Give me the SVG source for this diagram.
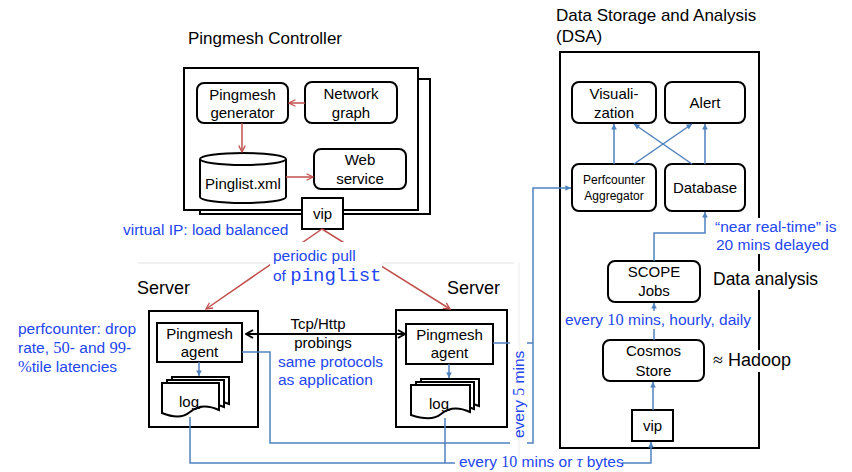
<svg xmlns="http://www.w3.org/2000/svg" width="852" height="472" viewBox="0 0 852 472">
<defs>
<style>
text{font-family:"Liberation Sans",Arial,sans-serif;fill:#000}
.t{font-size:17px}
.n{font-size:15px;text-anchor:middle}
.s{font-size:12px;text-anchor:middle}
.b{fill:#2346f0;font-size:15.5px}
.box{fill:#fff;stroke:#000;stroke-width:2}
.red{stroke:#c0504d;stroke-width:1.5;fill:none}
.blue{stroke:#4f81bd;stroke-width:1.5;fill:none}
.blk{stroke:#000;stroke-width:2;fill:none}
.wb{fill:#fff}
.serif{font-family:"Liberation Serif","Times New Roman",serif}
.mono{font-family:"Liberation Mono","Courier New",monospace}
</style>
<marker id="ar" viewBox="0 0 10 10" refX="9" refY="5" markerWidth="8" markerHeight="8" markerUnits="userSpaceOnUse" orient="auto"><path d="M1,1 L9,5 L1,9" fill="none" stroke="#c0504d" stroke-width="1.6"/></marker>
<marker id="ab" viewBox="0 0 10 10" refX="9" refY="5" markerWidth="7" markerHeight="7" markerUnits="userSpaceOnUse" orient="auto"><path d="M1,1 L9,5 L1,9 Z" fill="#4f81bd"/></marker>
<marker id="ak" viewBox="0 0 10 10" refX="9" refY="5" markerWidth="10" markerHeight="10" markerUnits="userSpaceOnUse" orient="auto-start-reverse"><path d="M2,1 L9,5 L2,9" fill="none" stroke="#000" stroke-width="2"/></marker>
</defs>
<rect width="852" height="472" fill="#fff"/>

<!-- faint guide lines -->
<line x1="138" y1="263" x2="514" y2="263" stroke="#e2e2e2" stroke-width="1"/>
<line x1="519" y1="263" x2="519" y2="458" stroke="#ececec" stroke-width="1"/>

<!-- Controller -->
<g id="controller">
<text x="188" y="44" class="t">Pingmesh Controller</text>
<rect x="200" y="79" width="230" height="135" class="box"/>
<rect x="184" y="68" width="234" height="142" class="box"/>
</g>
<g id="generator">
<rect x="197" y="83" width="91" height="40" rx="7" class="box"/>
<text x="242.5" y="100" class="n">Pingmesh</text>
<text x="242.5" y="118" class="n">generator</text>
</g>
<g id="netgraph">
<rect x="305" y="82" width="92" height="41" rx="7" class="box"/>
<text x="351" y="99" class="n">Network</text>
<text x="351" y="118" class="n">graph</text>
</g>
<g id="pinglist">
<path d="M200,159 V197 A43,6 0 0 0 286,197 V159" class="box"/>
<ellipse cx="243" cy="159" rx="43" ry="6" class="box"/>
<text x="243" y="189" class="n">Pinglist.xml</text>
</g>
<g id="webservice">
<rect x="314" y="149" width="92" height="40" rx="7" class="box"/>
<text x="360" y="165" class="n">Web</text>
<text x="360" y="184" class="n">service</text>
</g>
<g id="vip1">
<rect x="302" y="198" width="41" height="31" class="box"/>
<text x="322.5" y="219" class="n">vip</text>
</g>

<!-- Servers -->
<g id="server-left">
<text x="137" y="294" font-size="18">Server</text>
<rect x="149" y="311" width="109" height="116" class="box"/>
</g>
<g id="agent-left">
<rect x="157" y="323" width="85" height="39" class="box"/>
<text x="199.5" y="339" class="n">Pingmesh</text>
<text x="199.5" y="357" class="n">agent</text>
</g>
<g id="log-left">
<path d="M172,377 H229 V404 C218,399 210,401 204,405 L172,405 Z" class="box" stroke-width="1.6"/>
<path d="M167,380 H224 V407 C213,402 205,404 199,408 L167,408 Z" class="box" stroke-width="1.6"/>
<path d="M162,383 H219 V410 C206,404 197,406 190,412 C183,418 172,417 162,413 Z" class="box"/>
<text x="189" y="407" class="n">log</text>
</g>
<g id="server-right">
<text x="447" y="294" font-size="18">Server</text>
<rect x="396" y="310" width="111" height="117" class="box"/>
</g>
<g id="agent-right">
<rect x="406" y="324" width="87" height="40" class="box"/>
<text x="449.5" y="340" class="n">Pingmesh</text>
<text x="449.5" y="358" class="n">agent</text>
</g>
<g id="log-right">
<path d="M421,379 H479 V406 C468,401 460,403 454,407 L421,407 Z" class="box" stroke-width="1.6"/>
<path d="M416,382 H474 V409 C463,404 455,406 449,410 L416,410 Z" class="box" stroke-width="1.6"/>
<path d="M411,385 H470 V412 C457,406 448,408 441,414 C434,420 423,419 411,415 Z" class="box"/>
<text x="439" y="409" class="n">log</text>
</g>

<!-- DSA -->
<g id="dsa">
<text x="556" y="21" class="t">Data Storage and Analysis</text>
<text x="556" y="42" class="t">(DSA)</text>
<rect x="560" y="52" width="199" height="396" class="box"/>
</g>
<g id="visualization">
<rect x="572" y="82" width="84" height="41" rx="7" class="box"/>
<text x="614" y="99" class="n">Visuali-</text>
<text x="614" y="118" class="n">zation</text>
</g>
<g id="alert">
<rect x="665" y="82" width="80" height="41" rx="7" class="box"/>
<text x="705" y="108" class="n">Alert</text>
</g>
<g id="aggregator">
<rect x="572" y="164" width="84" height="47" rx="7" class="box"/>
<text x="614" y="184" class="s">Perfcounter</text>
<text x="614" y="200" class="s">Aggregator</text>
</g>
<g id="database">
<rect x="665" y="164" width="80" height="47" rx="7" class="box"/>
<text x="705" y="193" class="n" font-size="14">Database</text>
</g>
<g id="scope">
<rect x="608" y="261" width="92" height="41" rx="7" class="box"/>
<text x="654" y="277" class="n">SCOPE</text>
<text x="654" y="296" class="n">Jobs</text>
</g>
<g id="cosmos">
<rect x="603" y="340" width="101" height="41" rx="7" class="box"/>
<text x="653.5" y="356" class="n">Cosmos</text>
<text x="653.5" y="376" class="n">Store</text>
</g>
<g id="vip2">
<rect x="632" y="410" width="41" height="31" class="box"/>
<text x="652.5" y="431" class="n">vip</text>
</g>

<!-- Connectors -->
<g id="connectors">
<line x1="305" y1="103" x2="289" y2="103" class="red" marker-end="url(#ar)"/>
<line x1="242" y1="123" x2="242" y2="152" class="red" marker-end="url(#ar)"/>
<line x1="286" y1="177" x2="313" y2="177" class="red" marker-end="url(#ar)"/>
<line x1="322" y1="229" x2="206" y2="309" class="red" marker-end="url(#ar)"/>
<line x1="322" y1="229" x2="450" y2="309" class="red" marker-end="url(#ar)"/>
<line x1="246" y1="334" x2="405" y2="334" class="blk" marker-start="url(#ak)" marker-end="url(#ak)"/>
<line x1="199" y1="362" x2="199" y2="376" class="blue" marker-end="url(#ab)"/>
<line x1="449" y1="364" x2="449" y2="378" class="blue" marker-end="url(#ab)"/>
<polyline points="242,352 270,352 270,443 510,443" class="blue"/>
<line x1="493" y1="343" x2="510" y2="343" class="blue"/>
<polyline points="527,343 533,343" class="blue"/>
<polyline points="527,443 533,443 533,188 571,188" class="blue" marker-end="url(#ab)"/>
<polyline points="190,417 190,463 455,463" class="blue"/>
<line x1="445" y1="418" x2="445" y2="463" class="blue"/>
<polyline points="622,463 651,463 651,442" class="blue" marker-end="url(#ab)"/>
<line x1="614" y1="164" x2="614" y2="124" class="blue" marker-end="url(#ab)"/>
<line x1="634" y1="164" x2="692" y2="124" class="blue" marker-end="url(#ab)"/>
<line x1="692" y1="164" x2="634" y2="124" class="blue" marker-end="url(#ab)"/>
<line x1="705" y1="164" x2="705" y2="124" class="blue" marker-end="url(#ab)"/>
<polyline points="654,261 654,233 705,233 705,212" class="blue" marker-end="url(#ab)"/>
<line x1="654" y1="340" x2="654" y2="303" class="blue" marker-end="url(#ab)"/>
<line x1="653" y1="410" x2="653" y2="382" class="blue" marker-end="url(#ab)"/>
</g>

<!-- Labels -->
<g id="labels">
<text x="123" y="235" class="b">virtual IP: load balanced</text>
<rect x="270" y="242" width="112" height="44" class="wb"/>
<text x="273" y="261" class="b" font-size="21">periodic pull</text>
<text x="273" y="281" class="b" font-size="21">of <tspan class="mono" font-size="19">pinglist</tspan></text>
<text x="318" y="329" class="n" font-size="17.5">Tcp/Http</text>
<text x="323" y="348" class="n" font-size="17.5">probings</text>
<text x="278" y="367" class="b">same protocols</text>
<text x="278" y="385" class="b">as application</text>
<text x="18" y="334" class="b">perfcounter: drop</text>
<text x="18" y="353" class="b">rate, <tspan class="serif" font-size="16.5">50</tspan>- and <tspan class="serif" font-size="16.5">99</tspan>-</text>
<text x="18" y="372" class="b"><tspan class="serif" font-size="16.5">%</tspan>tile latencies</text>
<text transform="translate(524,438) rotate(-90)" class="b" font-size="15">every <tspan class="serif" font-size="16">5</tspan> mins</text>
<text x="459" y="467" class="b" font-size="15">every <tspan class="serif" font-size="16">10</tspan> mins or <tspan class="serif" font-style="italic" font-size="16">τ</tspan> bytes</text>
<rect x="712" y="218" width="124" height="36" class="wb"/>
<text x="715" y="232" class="b">“near real-time” is</text>
<text x="716" y="250" class="b">20 mins delayed</text>
<rect x="563" y="311" width="190" height="18" class="wb"/>
<text x="565" y="325" class="b">every <tspan class="serif" font-size="16.5">10</tspan> mins, hourly, daily</text>
<rect x="710" y="271" width="112" height="19" class="wb"/>
<text x="713" y="285" font-size="17.5">Data analysis</text>
<rect x="710" y="350" width="90" height="22" class="wb"/>
<text x="713" y="366" font-size="18"><tspan class="serif">≈</tspan> Hadoop</text>
</g>
</svg>
